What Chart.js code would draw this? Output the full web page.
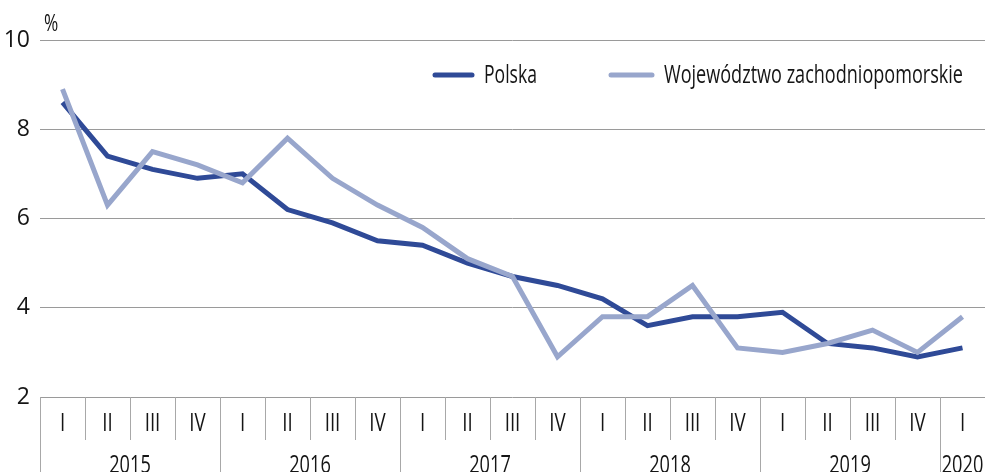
<!DOCTYPE html>
<html>
<head>
<meta charset="utf-8">
<script src="https://cdn.jsdelivr.net/npm/chart.js@4/dist/chart.umd.min.js"></script>
<style>
  html, body { margin: 0; padding: 0; background: #fff; }
  #wrap { width: 985px; height: 472px; position: relative; }
</style>
</head>
<body>
<div id="wrap"><canvas id="chart"></canvas></div>
<script>
// Dane
const kwartaly = ['I','II','III','IV','I','II','III','IV','I','II','III','IV','I','II','III','IV','I','II','III','IV','I'];
const lata = ['2015','2016','2017','2018','2019','2020'];
const polska = [8.6, 7.4, 7.1, 6.9, 7.0, 6.2, 5.9, 5.5, 5.4, 5.0, 4.7, 4.5, 4.2, 3.6, 3.8, 3.8, 3.9, 3.2, 3.1, 2.9, 3.1];
const zachodniopomorskie = [8.9, 6.3, 7.5, 7.2, 6.8, 7.8, 6.9, 6.3, 5.8, 5.1, 4.7, 2.9, 3.8, 3.8, 4.5, 3.1, 3.0, 3.2, 3.5, 3.0, 3.8];
const yTicks = [2, 4, 6, 8, 10];

const FONT = "'Liberation Sans Narrow', 'Open Sans', sans-serif";
const kolorPolska = '#2f4a97';
const kolorWoj = '#98a6cc';
const kolorSiatki = '#9a9a9a';
const kolorTekstu = '#151515';

// tekst zwężony poziomo (oryginał używa kroju condensed)
function tekstWasko(ctx, txt, x, y, skala, align) {
    const w = ctx.measureText(txt).width * skala;
    let x0 = x;
    if (align === 'center') x0 = x - w / 2;
    else if (align === 'right') x0 = x - w;
    ctx.save();
    ctx.textAlign = 'left';
    ctx.translate(x0, y);
    ctx.scale(skala, 1);
    ctx.fillText(txt, 0, 0);
    ctx.restore();
}

// Plugin: tabela osi X, legenda i jednostka
const tabelaOsi = {
    id: 'tabelaOsi',
    afterDraw(chart) {
        const ctx = chart.ctx;
        const x = chart.scales.x;
        const area = chart.chartArea;
        const w = x.getPixelForValue(1) - x.getPixelForValue(0);
        const dol = area.bottom;
        const rzad1 = dol + 46;
        const rzad2 = chart.height;

        ctx.save();
        ctx.strokeStyle = '#a8a8a8';
        ctx.lineWidth = 1;
        ctx.fillStyle = kolorTekstu;
        ctx.textBaseline = 'alphabetic';
        ctx.font = '26px ' + FONT;

        kwartaly.forEach((k, i) => {
            const lewo = Math.round(x.getPixelForValue(i) - w / 2) + 0.5;
            ctx.beginPath();
            ctx.moveTo(lewo, dol);
            ctx.lineTo(lewo, i % 4 === 0 ? rzad2 : rzad1 - 3);
            ctx.stroke();
            tekstWasko(ctx, k, x.getPixelForValue(i), dol + 34, 0.72, 'center');
        });

        ctx.font = '26px ' + FONT;
        lata.forEach((r, j) => {
            const start = j * 4;
            const end = Math.min(start + 3, kwartaly.length - 1);
            const srodek = (x.getPixelForValue(start) + x.getPixelForValue(end)) / 2;
            tekstWasko(ctx, r, srodek, rzad2 + 1, 0.7, 'center');
        });

        // jednostka
        ctx.font = '23px ' + FONT;
        tekstWasko(ctx, '%', area.left + 4, 31, 0.75, 'left');

        // legenda
        const ly = 75;
        const pozycje = [
            { x1: 435, x2: 472, tekst: 'Polska', szer: 53, kolor: kolorPolska },
            { x1: 611, x2: 652, tekst: 'Województwo zachodniopomorskie', szer: 299, kolor: kolorWoj }
        ];
        ctx.lineCap = 'round';
        ctx.lineWidth = 5;
        ctx.font = '25px ' + FONT;
        ctx.textBaseline = 'alphabetic';
        pozycje.forEach(p => {
            ctx.strokeStyle = p.kolor;
            ctx.beginPath();
            ctx.moveTo(p.x1, ly);
            ctx.lineTo(p.x2, ly);
            ctx.stroke();
            const skala = p.szer / ctx.measureText(p.tekst).width;
            tekstWasko(ctx, p.tekst, p.x2 + 12, ly + 8, skala, 'left');
        });
        ctx.restore();
    }
};

new Chart(document.getElementById('chart'), {
    type: 'line',
    data: {
        labels: kwartaly,
        datasets: [
            {
                label: 'Województwo zachodniopomorskie',
                data: zachodniopomorskie,
                borderColor: kolorWoj,
                borderWidth: 5,
                pointRadius: 0,
                tension: 0,
                borderJoinStyle: 'miter'
            },
            {
                label: 'Polska',
                data: polska,
                borderColor: kolorPolska,
                borderWidth: 5,
                pointRadius: 0,
                tension: 0,
                borderJoinStyle: 'miter'
            }
        ]
    },
    options: {
        responsive: true,
        maintainAspectRatio: false,
        animation: false,
        layout: { padding: { top: 40, right: 0, bottom: 75, left: 0 } },
        scales: {
            x: {
                type: 'category',
                offset: true,
                grid: { display: false },
                border: { display: false },
                ticks: { display: false },
                afterFit: scale => { scale.height = 0; }
            },
            y: {
                min: 2,
                max: 10,
                afterBuildTicks: scale => { scale.ticks = yTicks.map(v => ({ value: v })); },
                afterFit: scale => { scale.width = 40; },
                grid: { color: kolorSiatki, drawTicks: false, lineWidth: 1 },
                border: { display: false },
                ticks: {
                    padding: 10,
                    color: kolorTekstu,
                    font: { family: FONT, size: 23 }
                }
            }
        },
        plugins: {
            legend: { display: false },
            tooltip: { enabled: false }
        }
    },
    plugins: [tabelaOsi]
});
</script>
</body>
</html>
